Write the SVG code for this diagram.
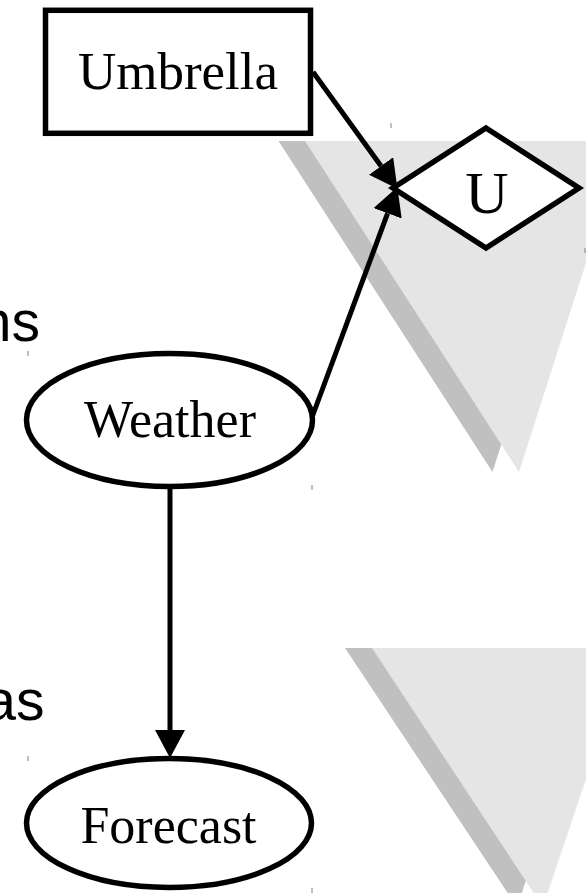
<svg xmlns="http://www.w3.org/2000/svg" width="586" height="893" viewBox="0 0 586 893">
  <style>
    .node { fill: #ffffff; stroke: #000000; stroke-width: 5.5; }
    .label { font-family: "Liberation Serif", "Times New Roman", serif; fill: #000000; text-anchor: middle; }
    .side { font-family: "Liberation Sans", Arial, sans-serif; fill: #000000; font-size: 57px; text-anchor: end; }
    .edge { fill: none; stroke: #000000; stroke-width: 5; }
    .shadow { fill: #c0c0c0; }
    .tri { fill: #e5e5e5; }
    .tick { stroke: #808080; stroke-width: 1; }
  </style>
  <defs>
    <marker id="arrow" markerUnits="userSpaceOnUse" markerWidth="28" markerHeight="30" refX="0" refY="15" orient="auto" viewBox="0 0 28 30">
      <path d="M0,0 L28,15 L0,30 z" fill="#000000"/>
    </marker>
  </defs>

  <g id="background">
    <polygon class="shadow" points="278.5,141 598.5,141 492.5,472"/>
    <polygon class="tri" points="305,141 625,141 519,472"/>
    <polygon class="shadow" points="345,648 604,648 517,907"/>
    <polygon class="tri" points="372,648 630,648 543,907"/>
    <text class="side" x="40" y="341">ns</text>
    <text class="side" x="44.5" y="720">as</text>
    <line class="tick" x1="391" y1="123" x2="391" y2="128"/>
    <line class="tick" x1="585" y1="248" x2="585" y2="253"/>
    <line class="tick" x1="28" y1="351" x2="28" y2="356"/>
    <line class="tick" x1="312" y1="485" x2="312" y2="490"/>
    <line class="tick" x1="28" y1="756" x2="28" y2="761"/>
    <line class="tick" x1="312" y1="888" x2="312" y2="893"/>
  </g>

  <g id="connectors">
    <path class="edge" d="M313,72 L381,166" marker-end="url(#arrow)"/>
    <path class="edge" d="M311,420 L387.6,213.3" marker-end="url(#arrow)"/>
    <path class="edge" d="M170,489 L170,730" marker-end="url(#arrow)"/>
  </g>

  <g id="umbrella">
    <rect class="node" x="45.5" y="10.3" width="265" height="123" stroke-width="6"/>
    <text class="label" x="178" y="89" font-size="53">Umbrella</text>
  </g>

  <g id="utility">
    <polygon class="node" points="486,128 579,188 486,248 393,188"/>
    <text class="label" x="487" y="213" font-size="60">U</text>
  </g>

  <g id="weather">
    <ellipse class="node" cx="169.5" cy="420" rx="143" ry="66.5"/>
    <text class="label" x="170" y="437" font-size="52">Weather</text>
  </g>

  <g id="forecast">
    <ellipse class="node" cx="169" cy="823" rx="142.5" ry="64.5"/>
    <text class="label" x="168.5" y="843" font-size="52">Forecast</text>
  </g>
</svg>
